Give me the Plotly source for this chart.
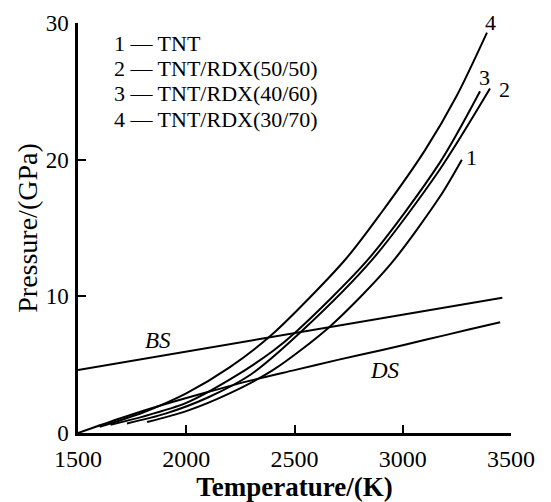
import plotly.graph_objects as go

# ---- data ----
T_BS = [1500, 3460]
P_BS = [4.6, 9.9]

T_DS = [1500, 1700, 1900, 2100, 2300, 2500, 2700, 2900, 3100, 3300, 3450]
P_DS = [0.0, 1.1, 2.1, 3.0, 3.85, 4.6, 5.35, 6.05, 6.8, 7.55, 8.1]

T_1 = [1819, 2000, 2200, 2400, 2664, 2941, 3172, 3273]
P_1 = [0.8, 1.6, 2.9, 4.6, 7.8, 12.3, 17.3, 20.0]

T_2 = [1726, 1900, 2100, 2300, 2540, 2860, 3172, 3403]
P_2 = [0.7, 1.4, 2.6, 4.3, 7.55, 12.7, 19.3, 25.2]

T_3 = [1650, 1800, 2000, 2200, 2400, 2510, 2840, 3172, 3357]
P_3 = [0.6, 1.2, 2.2, 3.9, 6.0, 7.45, 12.7, 19.8, 25.0]

T_4 = [1600, 1800, 2000, 2200, 2396, 2733, 2900, 3103, 3250, 3389]
P_4 = [0.45, 1.5, 2.9, 4.8, 7.2, 12.66, 16.1, 20.7, 24.7, 29.3]

legend_lines = ["1 — TNT", "2 — TNT/RDX(50/50)", "3 — TNT/RDX(40/60)", "4 — TNT/RDX(30/70)"]
curve_labels = ["1", "2", "3", "4"]

x_ticks = [1500, 2000, 2500, 3000, 3500]
y_ticks = [0, 10, 20, 30]

FONT = "Liberation Serif, Times New Roman, serif"

fig = go.Figure()
line = dict(color="black", width=2, shape="spline", smoothing=0.8)
for T, P in [(T_BS, P_BS), (T_DS, P_DS), (T_1, P_1), (T_2, P_2), (T_3, P_3), (T_4, P_4)]:
    fig.add_trace(go.Scatter(x=T, y=P, mode="lines", line=line, showlegend=False, hoverinfo="skip"))

ann = []
# legend block
for i, txt in enumerate(legend_lines):
    ann.append(dict(x=0.078, y=0.951 - i * 0.062, xref="paper", yref="paper", text=txt,
                    showarrow=False, xanchor="left", yanchor="middle",
                    font=dict(family=FONT, size=22, color="black")))
# curve end labels (offsets in pixels from curve ends)
end_offsets = [(10, 2), (14, -1), (4, 14), (4, 10)]
ends = [(T_1[-1], P_1[-1]), (T_2[-1], P_2[-1]), (T_3[-1], P_3[-1]), (T_4[-1], P_4[-1])]
for lab, (xx, yy), (dx, dy) in zip(curve_labels, ends, end_offsets):
    ann.append(dict(x=xx, y=yy, text=lab, showarrow=False, xanchor="center", yanchor="middle",
                    xshift=dx, yshift=dy, font=dict(family=FONT, size=22, color="black")))
ann.append(dict(x=1870, y=6.8, text="<i>BS</i>", showarrow=False,
                font=dict(family=FONT, size=23, color="black")))
ann.append(dict(x=2918, y=4.6, text="<i>DS</i>", showarrow=False,
                font=dict(family=FONT, size=23, color="black")))

axis_common = dict(showline=True, linecolor="black", linewidth=2.5, ticks="inside", ticklen=8,
                   tickwidth=2, tickcolor="black", showgrid=False, zeroline=False, automargin=False)

# the page body has an 8px margin, so the figure is sized/offset to compensate
fig.update_layout(
    width=543, height=494,
    margin=dict(l=70, r=40, t=15, b=69),
    plot_bgcolor="white", paper_bgcolor="white",
    xaxis=dict(range=[1500, 3500], tickvals=x_ticks, ticktext=[str(v) for v in x_ticks],
               ticklabelstandoff=2, tickfont=dict(family=FONT, size=24, color="black"),
               title=dict(text="<b>Temperature/(K)</b>", font=dict(family=FONT, size=27, color="black"), standoff=2),
               **axis_common),
    yaxis=dict(range=[0, 30], tickvals=y_ticks, ticktext=[str(v) for v in y_ticks],
               ticklabelstandoff=2, tickfont=dict(family=FONT, size=23, color="black"),
               title=dict(text="Pressure/(GPa)", font=dict(family=FONT, size=28, color="black"), standoff=0),
               **axis_common),
    annotations=ann,
)

fig.write_html("out.html")
